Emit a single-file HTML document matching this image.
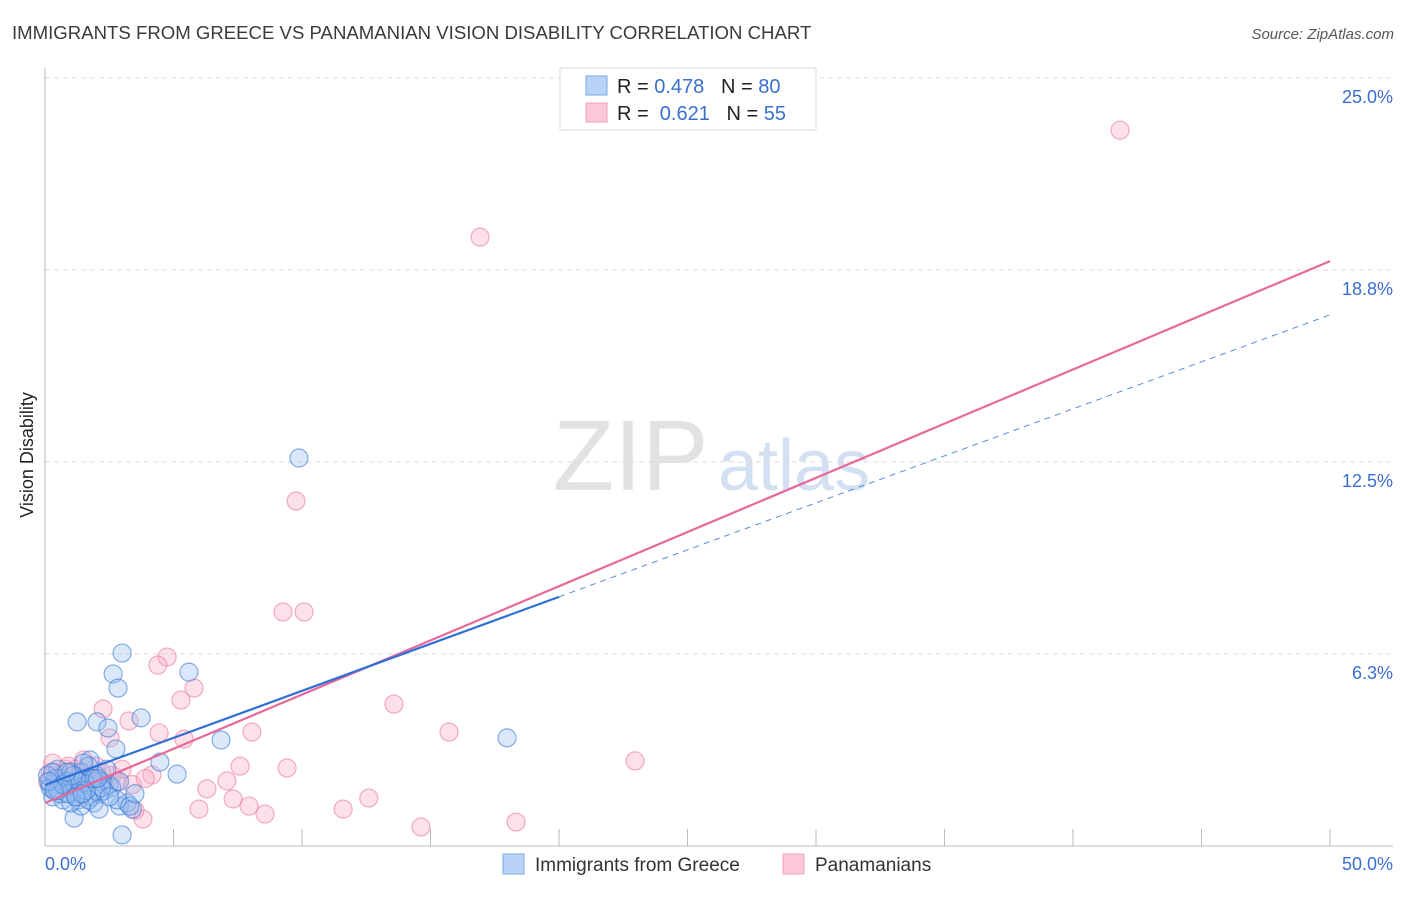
<!DOCTYPE html>
<html><head><meta charset="utf-8"><style>
body{margin:0;background:#fff;font-family:"Liberation Sans",sans-serif}
svg text{font-family:"Liberation Sans",sans-serif}
</style></head><body>
<svg id="c" width="1406" height="892">
<text x="12" y="39" font-size="18.6" fill="#3a3a3a">IMMIGRANTS FROM GREECE VS PANAMANIAN VISION DISABILITY CORRELATION CHART</text>
<text x="1394" y="39" font-size="15" font-style="italic" fill="#555" text-anchor="end">Source: ZipAtlas.com</text>
<text x="33" y="455" font-size="18" fill="#222" text-anchor="middle" transform="rotate(-90 33 455)">Vision Disability</text>
<text x="553" y="490" font-size="100" fill="#e2e2e2" font-family="Liberation Serif">ZIP</text>
<text x="718" y="490" font-size="72" fill="#d3e0f2">atlas</text>
<g id="grid"></g><g id="pts"></g><g id="lines"></g>
<g>
<rect x="560" y="68" width="256" height="62" fill="#fff" stroke="#ddd"/>
<rect x="586" y="76" width="21" height="19" fill="#b8d3f5" stroke="#7fa8e0"/>
<rect x="586" y="103" width="21" height="19" fill="#fbc9d8" stroke="#f0a0b8"/>
<text x="617" y="93" font-size="20" fill="#222">R = <tspan fill="#3a6fd0">0.478</tspan>&#160;&#160;&#160;N = <tspan fill="#3a6fd0">80</tspan></text>
<text x="617" y="120" font-size="20" fill="#222">R = &#160;<tspan fill="#3a6fd0">0.621</tspan>&#160;&#160;&#160;N = <tspan fill="#3a6fd0">55</tspan></text>
</g>
<g>
<rect x="503" y="854" width="21" height="20" fill="#b8d3f5" stroke="#7fa8e0"/>
<text x="535" y="871" font-size="19" fill="#333">Immigrants from Greece</text>
<rect x="783" y="854" width="21" height="20" fill="#fbc9d8" stroke="#f0a0b8"/>
<text x="815" y="871" font-size="19" fill="#333">Panamanians</text>
</g>
</svg>
<script>
const yTicks=[6.25,12.5,18.75,25];
const yTickLabels=["6.3%","12.5%","18.8%","25.0%"];
const xTickLabels=["0.0%","50.0%"];
const blueX=[9.88,3.0,5.6,2.65,2.84,1.25,2.02,3.74,2.45,6.85,17.98,2.76,1.75,4.47,5.14,1.13,3.0,0.2,0.4,0.6,0.8,1.0,1.2,1.4,1.6,1.8,2.0,2.2,0.3,0.7,1.1,1.5,1.9,2.3,0.5,0.9,1.3,1.7,2.1,2.5,0.1,0.6,1.0,1.4,1.8,2.6,2.9,3.2,0.2,0.8,1.2,1.6,2.0,2.4,0.4,1.0,1.5,2.8,3.4,2.9,3.3,0.3,0.9,1.3,1.7,2.2,0.5,1.1,1.6,2.1,0.15,0.7,1.2,1.9,2.5,3.5,0.35,0.85,1.45,2.05];
const blueY=[12.63,6.28,5.66,5.6,5.14,4.04,4.04,4.17,3.84,3.45,3.52,3.16,2.8,2.73,2.34,0.91,0.36,2.0,1.8,2.2,1.9,2.1,1.7,2.4,2.0,1.6,2.3,2.1,1.6,1.5,1.9,2.2,1.4,1.8,2.5,2.0,1.5,2.6,1.7,2.0,2.3,1.7,2.4,1.3,2.2,1.9,1.3,1.4,1.9,2.1,1.6,2.0,1.8,2.5,2.2,1.4,2.7,1.5,1.2,2.1,1.3,2.4,1.7,2.1,1.5,1.9,1.8,2.3,1.8,1.2,2.1,2.0,1.6,2.2,1.6,1.7,1.8,2.4,1.7,2.2];
const pinkX=[41.83,16.93,9.77,9.26,10.08,4.75,4.39,5.8,5.29,2.26,13.58,3.27,4.44,8.05,15.72,5.41,2.53,22.96,9.42,7.59,7.08,6.3,7.32,7.94,8.56,11.6,12.6,14.63,18.33,5.99,3.81,3.5,4.16,0.2,0.5,0.8,1.1,1.4,1.7,2.0,2.3,0.3,0.7,1.2,1.8,2.6,3.0,3.4,0.1,0.9,1.5,2.2,2.8,3.9,1.0];
const pinkY=[23.3,19.82,11.23,7.62,7.62,6.15,5.89,5.14,4.75,4.46,4.62,4.07,3.68,3.71,3.71,3.48,3.52,2.77,2.54,2.6,2.12,1.86,1.53,1.3,1.04,1.2,1.56,0.62,0.78,1.2,0.88,1.17,2.31,2.4,2.2,2.5,2.1,2.4,2.2,2.6,2.0,2.7,2.3,2.5,2.2,2.3,2.5,2.0,2.1,2.6,2.8,2.4,2.1,2.2,2.0];
const blueLine=[1.99,17.29];
const pinkLine=[1.4,19.04];
const X=v=>45+v/50*1285, Y=v=>846-v*30.72;
const NS="http://www.w3.org/2000/svg";
function mk(t,a,p){const e=document.createElementNS(NS,t);for(const k in a)e.setAttribute(k,a[k]);p.appendChild(e);return e;}
const g=document.getElementById('grid');
yTicks.forEach((v,i)=>{
 const l=mk('line',{x1:45,x2:1393,y1:Y(v),y2:Y(v),stroke:'#ddd','stroke-dasharray':'5,4'},g);
 
 
 const t=mk('text',{x:1393,y:Y(v)+25,'font-size':18,fill:'#3a6fd0','text-anchor':'end'},g);t.textContent=yTickLabels[i];
 
 
});
mk('line',{x1:45,x2:45,y1:68,y2:846,stroke:'#bbb'},g);
mk('line',{x1:45,x2:1393,y1:846,y2:846,stroke:'#bbb'},g);
for(let i=1;i<=10;i++){const tk=mk('line',{x1:X(i*5),x2:X(i*5),y1:829,y2:846,stroke:'#bbb'},g);
 
 }
[[0,'start',45],[50,'end',1393]].forEach((d,i)=>{const t=mk('text',{x:d[2],y:870,'font-size':18,fill:'#3a6fd0','text-anchor':d[1]},g);t.textContent=xTickLabels[i];
 
 });
const P=document.getElementById('pts');
pinkX.forEach((x,i)=>{const c=mk('circle',{cx:X(x),cy:Y(pinkY[i]),r:9,fill:'rgba(248,170,195,0.35)',stroke:'rgba(235,120,155,0.6)','stroke-width':1.2},P);
 
 });
blueX.forEach((x,i)=>{const c=mk('circle',{cx:X(x),cy:Y(blueY[i]),r:9,fill:'rgba(150,190,240,0.35)',stroke:'rgba(60,120,210,0.6)','stroke-width':1.2},P);
 
 });
const L=document.getElementById('lines');
const bAt=v=>blueLine[0]+(blueLine[1]-blueLine[0])*v/50;
const pl=mk('line',{x1:X(0),y1:Y(pinkLine[0]),x2:X(50),y2:Y(pinkLine[1]),stroke:'#e8689a','stroke-width':2.2},L);


const bl=mk('line',{x1:X(0),y1:Y(bAt(0)),x2:X(20),y2:Y(bAt(20)),stroke:'#2f6fd6','stroke-width':2.2},L);


const bd=mk('line',{x1:X(20),y1:Y(bAt(20)),x2:X(50),y2:Y(bAt(50)),stroke:'#5a8ad8','stroke-width':1,'stroke-dasharray':'6,5'},L);


</script>
</body></html>
